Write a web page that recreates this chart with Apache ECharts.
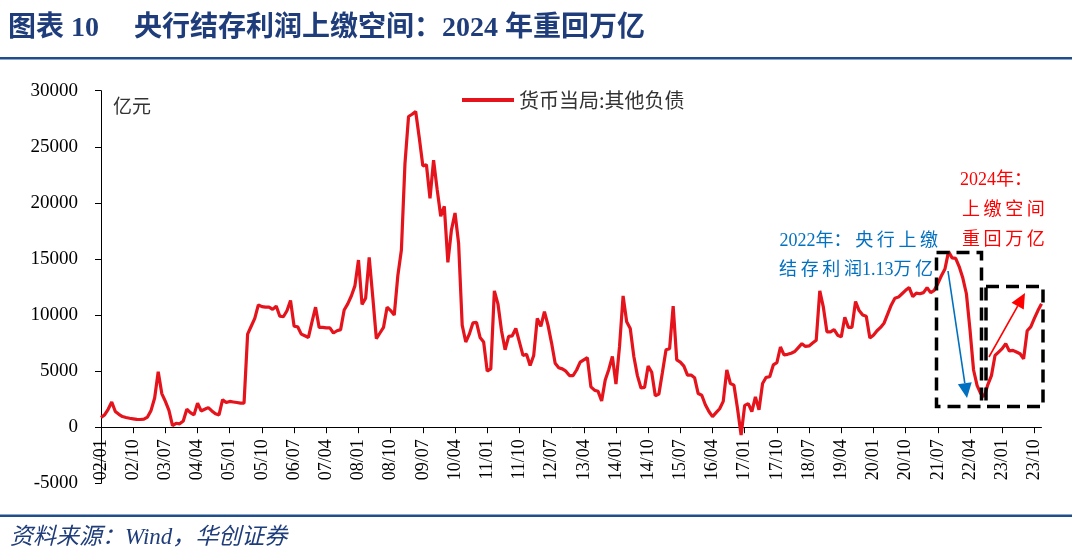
<!DOCTYPE html>
<html>
<head>
<meta charset="utf-8">
<title>央行结存利润上缴空间</title>
<script src="https://cdn.jsdelivr.net/npm/echarts@6/dist/echarts.min.js"></script>
<style>
html, body { margin: 0; padding: 0; background: #fff; }
#chart { width: 1080px; height: 558px; }
</style>
</head>
<body>
<div id="chart"></div>
<script>
// 月度：2002/01 - 2023/12
var startYear = 2002;
var monthCount = 264;
var categories = [];
for (var k = 0; k < monthCount; k++) {
    var yy = (startYear + Math.floor(k / 12)) % 100;
    var mm = k % 12 + 1;
    categories.push((yy < 10 ? '0' : '') + yy + '/' + (mm < 10 ? '0' : '') + mm);
}

// 货币当局:其他负债（亿元），每行一年
var otherLiab = [
    870, 1100, 1600, 2250, 1400, 1150, 950, 870, 800, 750, 700, 690,
    720, 900, 1500, 2600, 4950, 3000, 2300, 1500, 150, 350, 300, 550,
    1600, 1300, 1100, 2150, 1450, 1600, 1750, 1450, 1200, 1100, 2450, 2200,
    2300, 2250, 2200, 2150, 2150, 8300, 9000, 9700, 10900, 10750, 10700, 10700,
    10500, 10800, 9900, 9850, 10380, 11300, 9000, 8950, 8300, 8150, 8000, 9400,
    10700, 8900, 8900, 8850, 8850, 8400, 8600, 8700, 10450, 11000, 11700, 12600,
    14900, 10950, 11500, 15150, 11600, 7900, 8400, 8900, 10700, 10400, 10000, 13500,
    15800, 23500, 27700, 27900, 28150, 25800, 23300, 23400, 20400, 23800, 21200, 18800,
    19700, 14700, 17600, 19100, 16400, 9100, 7600, 8300, 9300, 9350, 8000, 7600,
    5000, 5200, 12150, 11000, 8600, 6900, 8100, 8150, 8800, 7600, 6400, 6500,
    5500, 6400, 9700, 9000, 10300, 9100, 7500, 5700, 5300, 5200, 5000, 4600,
    4600, 5100, 5800, 6000, 6200, 3600, 3300, 3200, 2350, 4200, 5150, 6300,
    3850, 7200, 11700, 9400, 8800, 6300, 4600, 3500, 3550, 5450, 4900, 2800,
    2950, 4900, 6900, 7000, 10800, 6000, 5800, 5450, 4650, 4650, 4400, 3000,
    2850, 2000, 1400, 950, 1300, 1650, 2300, 5100, 3900, 3750, 1650, -700,
    1950, 2100, 1400, 2700, 1550, 3900, 4450, 4500, 5550, 5750, 7150, 6450,
    6500, 6600, 6750, 7100, 7450, 7200, 7250, 7500, 7750, 12150, 10700, 8500,
    8500, 8700, 8200, 8050, 9800, 8900, 8900, 11200, 10400, 10000, 9900, 7950,
    8200, 8600, 8900, 9300, 10100, 10900, 11500, 11600, 11900, 12200, 12450, 11650,
    11950, 11900, 12000, 12450, 12000, 12200, 12800, 13500, 14100, 15650, 15100, 15050,
    14300, 13300, 11900, 8700, 5100, 3700, 3000, 2750, 3800, 4600, 6400, 6700,
    7000, 7450, 6800, 6850, 6700, 6550, 6100, 8600, 8950, 9700, 10400, 11000
];

var yMin = -5000, yMax = 30000, yStep = 5000;

var serif = "'Liberation Serif', 'Times New Roman', 'Noto Sans CJK SC', serif";
var cjk = "'Noto Sans CJK SC', sans-serif";
var navy = '#1F3D7A';

// 图区：0 轴所在位置（x 轴标签贴着 0 轴画）
var gridTop = 90.7, gridHeight = 392.6;
var zeroOffset = gridHeight * (0 - yMin) / (yMax - yMin);

// 箭头：线段 + 三角形箭头
function arrow(x1, y1, x2, y2, color) {
    var ang = Math.atan2(y2 - y1, x2 - x1);
    var len = 15, half = 7;
    var bx = x2 - len * Math.cos(ang), by = y2 - len * Math.sin(ang);
    var px = -Math.sin(ang) * half, py = Math.cos(ang) * half;
    return [
        { type: 'line', shape: { x1: x1, y1: y1, x2: bx, y2: by }, style: { stroke: color, lineWidth: 1.6 }, z: 10 },
        { type: 'polygon', shape: { points: [[x2, y2], [bx + px, by + py], [bx - px, by - py]] }, style: { fill: color }, z: 10 }
    ];
}

function label(x, y, text, font, color, align) {
    return {
        type: 'text', x: x, y: y, z: 10,
        style: { text: text, font: font, fill: color, textAlign: align || 'left', textVerticalAlign: 'middle' }
    };
}

var dashBox = function (x, y, w, h) {
    return {
        type: 'rect', z: 9,
        shape: { x: x, y: y, width: w, height: h },
        style: { fill: null, stroke: '#000', lineWidth: 3.5, lineDash: [13, 7] }
    };
};

var graphics = [
    label(8, 29, '图表 10', 'bold 28px ' + serif, navy),
    label(134, 29, '央行结存利润上缴空间：2024 年重回万亿', 'bold 28px ' + serif, navy),
    { type: 'rect', shape: { x: 0, y: 57, width: 1072, height: 2.5 }, style: { fill: '#1F4E8C' } },
    { type: 'rect', shape: { x: 0, y: 514.5, width: 1072, height: 2.5 }, style: { fill: '#1F4E8C' } },
    label(10, 538, '资料来源：Wind，华创证券', 'italic 23px ' + serif, navy),
    label(113, 106, '亿元', '19px ' + cjk, '#333'),
    dashBox(936.5, 252.5, 45, 154),
    dashBox(986, 286.5, 57, 120),
    label(938, 241.5, '2022年：\u2009央\u2009行\u2009上\u2009缴', '18px ' + serif, '#0070C0', 'right'),
    label(933, 270, '结\u2009存\u2009利\u2009润1.13万\u2009亿', '18px ' + serif, '#0070C0', 'right'),
    label(960, 180, '2024年：', '18px ' + serif, '#FF0000'),
    label(962, 210, '上\u2009缴\u2009空\u2009间', '18px ' + serif, '#FF0000'),
    label(962, 240, '重\u2009回\u2009万\u2009亿', '18px ' + serif, '#FF0000')
].concat(arrow(948, 271, 967, 398, '#0070C0'), arrow(989, 357, 1025, 293, '#FF0000'));

var chart = echarts.init(document.getElementById('chart'));
var option = {
    backgroundColor: '#fff',
    animation: false,
    legend: {
        top: 85,
        left: 457,
        icon: 'rect',
        itemWidth: 52,
        itemHeight: 4,
        textStyle: { fontFamily: cjk, fontSize: 20, color: '#333' },
        data: ['货币当局:其他负债']
    },
    grid: { left: 101, top: gridTop, width: 940.5, height: gridHeight },
    xAxis: {
        type: 'category',
        boundaryGap: false,
        data: categories,
        offset: -zeroOffset,
        axisLine: { onZero: false, lineStyle: { color: '#000', width: 1 } },
        axisTick: { interval: 8, length: 6, lineStyle: { color: '#000' } },
        axisLabel: { interval: 8, rotate: 90, margin: 12, fontFamily: serif, fontSize: 18, color: '#000' },
        splitLine: { show: false }
    },
    yAxis: {
        type: 'value',
        min: yMin,
        max: yMax,
        interval: yStep,
        axisLine: { show: true, lineStyle: { color: '#000', width: 1 } },
        axisTick: { show: true, length: 6, lineStyle: { color: '#000' } },
        axisLabel: {
            margin: 23, fontFamily: serif, fontSize: 19, color: '#000',
            formatter: function (v) { return String(v); }
        },
        splitLine: { show: false }
    },
    series: [{
        name: '货币当局:其他负债',
        type: 'line',
        data: otherLiab,
        showSymbol: false,
        symbol: 'none',
        lineStyle: { color: '#E5131B', width: 3.2 },
        itemStyle: { color: '#E5131B' }
    }],
    graphic: graphics
};
chart.setOption(option);
</script>
</body>
</html>
